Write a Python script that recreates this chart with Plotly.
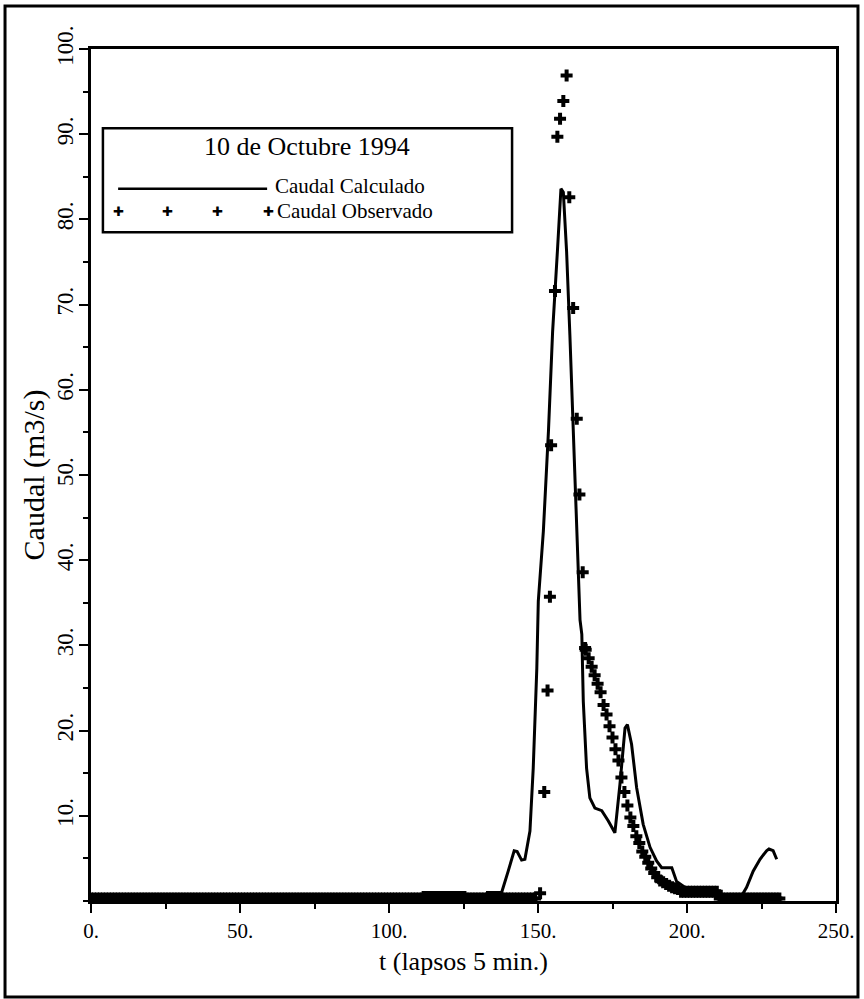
import plotly.graph_objects as go

# Caudal calculado (linea continua)
calc_t = [0, 111, 111.4, 125.5, 125.6, 132.6, 133, 137.8, 140, 142, 143, 144.5, 145.6,
          147.3, 148.4, 149.6, 150.1, 151.8, 153.5, 154.9, 156.5, 157.7, 158.5, 159.6,
          160.7, 161.9, 163, 164.1, 164.7, 165.2, 166.3, 167.4, 169.1, 171.4, 173.6,
          175.8, 177.5, 179.2, 180, 181.4, 183.1, 185.3, 187.6, 189.8, 191.5, 194.9,
          196.5, 199.3, 200, 211, 211.2, 217.8, 220, 222.2, 224.5, 226.7, 227.5,
          228.9, 230.1]
calc_q = [0.3, 0.3, 1.0, 1.0, 0.3, 0.3, 1.0, 1.0, 3.5, 5.9, 5.8, 4.8, 4.9,
          8.2, 15.6, 27.3, 35.2, 43.4, 55.1, 66.8, 76.2, 83.6, 83.2, 76.2,
          66.4, 55.1, 43.4, 33.0, 31.3, 23.4, 15.6, 12.1, 10.9, 10.6, 9.4,
          8.0, 13.7, 20.3, 20.7, 18.4, 13.3, 9.0, 6.3, 4.7, 3.9, 3.9,
          2.3, 1.6, 1.2, 1.2, 0.3, 0.3, 1.6, 3.5, 4.9, 5.9, 6.1,
          5.9, 4.9]

# Caudal observado (cruces)
obs_base_t = list(range(0, 150))
obs_base_q = [0.3] * 150
obs_peak_t = [150.7, 152.1, 153.2, 154.0, 154.4, 155.7, 156.5, 157.4, 158.5, 159.6,
              160.5, 161.8, 163.0, 163.9, 165.0, 165.8]
obs_peak_q = [0.9, 12.8, 24.7, 35.7, 53.5, 71.6, 89.7, 91.8, 93.9, 96.9,
              82.6, 69.6, 56.6, 47.7, 38.6, 29.7]
obs_tail_t = list(range(166, 198))
obs_tail_q = [29.5, 28.5, 27.5, 26.5, 25.5, 24.5, 23.0, 21.9, 20.5, 19.2,
              17.8, 16.5, 14.5, 12.8, 11.2, 9.8, 8.8, 7.6, 6.8, 5.8,
              5.2, 4.5, 3.8, 3.3, 2.8, 2.4, 2.2, 2.0, 1.8, 1.6,
              1.5, 1.4]
obs_flat_t = list(range(198, 211))
obs_flat_q = [1.1] * 13
obs_end_t = list(range(211, 232))
obs_end_q = [0.3] * 21

obs_t = obs_base_t + obs_peak_t + obs_tail_t + obs_flat_t + obs_end_t
obs_q = obs_base_q + obs_peak_q + obs_tail_q + obs_flat_q + obs_end_q

x_ticks = [0, 50, 100, 150, 200, 250]
x_labels = ['0.', '50.', '100.', '150.', '200.', '250.']
y_ticks = [10, 20, 30, 40, 50, 60, 70, 80, 90, 100]
y_labels = ['10.', '20.', '30.', '40.', '50.', '60.', '70.', '80.', '90.', '100.']

FONT = 'Liberation Serif'

fig = go.Figure()
fig.add_trace(go.Scatter(
    x=calc_t, y=calc_q, mode='lines', name='Caudal Calculado',
    line=dict(color='black', width=3), showlegend=False
))
fig.add_trace(go.Scatter(
    x=obs_t, y=obs_q, mode='markers', name='Caudal Observado',
    marker=dict(symbol='cross', size=10, color='black'), showlegend=False
))

axis_common = dict(
    showgrid=False, zeroline=False, showline=True, linecolor='black', linewidth=2.5,
    mirror=True, ticks='outside', tickcolor='black', tickwidth=2, automargin=False,
    minor=dict(ticks='outside', ticklen=5, tickcolor='black', tickwidth=2),
)

fig.update_xaxes(
    range=[0, 250], tickvals=x_ticks, ticktext=x_labels, ticklen=9,
    tickfont=dict(family=FONT, size=21, color='black'),
    title=dict(text='t (lapsos 5 min.)', font=dict(family=FONT, size=26, color='black'), standoff=10),
    **axis_common
)
fig.update_xaxes(minor_dtick=25)
fig.update_yaxes(
    range=[0, 100], tickvals=y_ticks, ticktext=y_labels, ticklen=9, tickangle=-90,
    tickfont=dict(family=FONT, size=23, color='black'), ticklabelstandoff=-3,
    title=dict(text='Caudal (m3/s)', font=dict(family=FONT, size=30, color='black'), standoff=0),
    **axis_common
)
fig.update_yaxes(minor_dtick=5)

# leyenda dibujada a mano como en el original
fig.add_shape(type='rect', xref='x', yref='y', x0=4.0, x1=141.3, y0=78.5, y1=90.7,
              line=dict(color='black', width=2.5), fillcolor='white', layer='below')
fig.add_shape(type='line', xref='x', yref='y', x0=9.1, x1=59.1, y0=83.6, y1=83.6,
              line=dict(color='black', width=2.5))
for xm in [9.1, 25.8, 42.6, 59.4]:
    fig.add_annotation(x=xm, y=80.9, xref='x', yref='y', text='✚', showarrow=False,
                       font=dict(family='DejaVu Sans', size=13, color='black'))
fig.add_annotation(x=72.5, y=88.6, xref='x', yref='y', text='10 de Octubre 1994',
                   showarrow=False, font=dict(family=FONT, size=26, color='black'))
fig.add_annotation(x=61.0, y=83.9, xref='x', yref='y', text='Caudal Calculado', xanchor='left',
                   showarrow=False, font=dict(family=FONT, size=21, color='black'))
fig.add_annotation(x=61.6, y=81.0, xref='x', yref='y', text='Caudal Observado', xanchor='left',
                   showarrow=False, font=dict(family=FONT, size=21, color='black'))

# marco exterior
fig.add_shape(type='rect', xref='paper', yref='paper', x0=-0.1154, x1=1.0295,
              y0=-0.1127, y1=1.0505, line=dict(color='black', width=3))

fig.update_layout(
    width=864, height=999,
    margin=dict(l=91, r=28, t=49, b=98),
    plot_bgcolor='white', paper_bgcolor='white',
    font=dict(family=FONT, color='black'),
)

fig.write_html('out.html', config={'displayModeBar': False},
               post_script="document.body.style.margin='0';")
